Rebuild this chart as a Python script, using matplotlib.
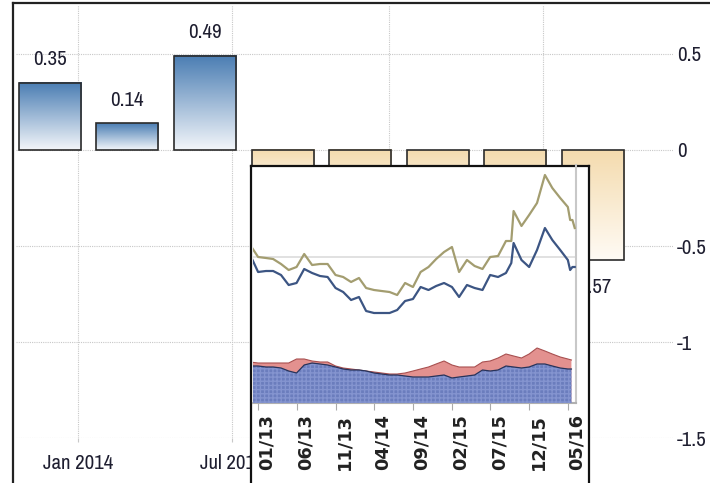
import numpy as np
import pandas as pd
import matplotlib
matplotlib.use("Agg")
import matplotlib.pyplot as plt
import matplotlib.dates as mdates
from matplotlib.colors import LinearSegmentedColormap
from matplotlib.lines import Line2D

plt.rcParams['font.family'] = ['Archivo Narrow', 'DejaVu Sans']

# quarterly bars of the main chart
bar_dates = ['2013-11-29', '2014-02-27', '2014-05-30', '2014-08-29',
             '2014-11-28', '2015-02-27', '2015-05-29', '2015-08-28']
bar_values = [0.35, 0.14, 0.49, -0.21, -0.33, -0.27, -0.42, -0.57]
main_ticks = ['2014-01-01', '2014-07-01', '2015-01-01', '2015-07-01']
main_tick_labels = ['Jan 2014', 'Jul 2014', '', '']  # later ones sit behind the inset
y_ticks = [0.5, 0, -0.5, -1, -1.5]
y_tick_labels = ['0.5', '0', '-0.5', '-1', '-1.5']

# inset: two price lines (monthly, a few extra points near the jumps)
line_dates = (list(pd.date_range('2012-12-01', '2015-09-01', freq='MS'))
              + [pd.Timestamp('2015-09-22')]
              + list(pd.date_range('2015-10-01', '2016-05-01', freq='MS'))
              + [pd.Timestamp('2016-05-10'), pd.Timestamp('2016-05-19'),
                 pd.Timestamp('2016-05-28')])
tan_line = [158, 146, 145, 144, 139, 133, 136, 149, 138, 139, 139, 128, 126,
            121, 125, 115, 113, 112, 111, 108, 120, 116, 131, 136, 144, 151,
            156, 131, 143, 137, 134, 146, 147, 162, 162,
            192, 177, 188, 200, 228, 215, 205, 196, 183, 183, 175]
blue_line = [148, 131, 132, 132, 128, 118, 120, 134, 130, 127, 126, 115, 111,
             103, 106, 92, 90, 90, 90, 93, 102, 104, 116, 113, 117, 120,
             116, 106, 118, 115, 113, 128, 126, 130, 140,
             160, 143, 136, 153, 175, 163, 153, 143, 133, 136, 136]

# inset: stacked areas at the bottom
area_dates = (list(pd.date_range('2012-12-01', '2016-05-01', freq='MS'))
              + [pd.Timestamp('2016-05-15')])
area_pink = [41, 40, 40, 40, 40, 40, 44, 44, 42, 41, 41, 37, 35, 34, 33, 32,
             31, 30, 29, 29, 30, 32, 34, 36, 39, 42, 38, 36, 36, 36, 41, 42,
             45, 49, 47, 45, 49, 55, 52, 49, 46, 44, 43]
area_blue = [37, 37, 36, 36, 35, 32, 30, 38, 40, 39, 38, 36, 34, 33, 33, 32,
             30, 29, 28, 28, 27, 26, 26, 26, 27, 28, 25, 26, 27, 28, 33, 32,
             33, 37, 36, 35, 36, 39, 39, 37, 35, 34, 34]
inset_ticks = pd.date_range('2013-01-01', '2016-05-01', freq='5MS')

W, H = 710, 483
TXT = '#1e1e30'
FS = 15


def fx(px):
    return px / W


def fy(py):
    return 1 - py / H


fig = plt.figure(figsize=(W / 100, H / 100), dpi=100)

# main chart
ax = fig.add_axes([fx(16), fy(438.3), fx(673) - fx(16), fy(5) - fy(438.3)])
xs = mdates.date2num(pd.to_datetime(bar_dates))
width = 73
pos_cmap = LinearSegmentedColormap.from_list('pos', ['#4a7db3', '#f3f6fa'])
neg_cmap = LinearSegmentedColormap.from_list('neg', ['#f4dbae', '#fffbf5'])
grad = np.linspace(0, 1, 256).reshape(-1, 1)
for x, v in zip(xs, bar_values):
    cmap = pos_cmap if v > 0 else neg_cmap
    ax.imshow(grad, extent=[x - width / 2, x + width / 2, min(0, v), max(0, v)],
              cmap=cmap, aspect='auto', origin='upper', zorder=2)
    off = 16.5 if v > 0 else -20
    ax.annotate(f'{v:.2f}', (x, v), xytext=(0, off), textcoords='offset points',
                ha='center', va='center', fontsize=FS, color=TXT)
ax.bar(xs, bar_values, width=width, fill=False, edgecolor='#2b2b2b',
       linewidth=1.2, zorder=3)

ax.set_xlim(mdates.date2num(pd.Timestamp('2013-10-20')),
            mdates.date2num(pd.Timestamp('2015-11-30')))
ax.set_ylim(-1.5, 0.754)
ax.set_xticks(mdates.date2num(pd.to_datetime(main_ticks)))
ax.set_xticklabels(main_tick_labels)
ax.set_yticks(y_ticks)
ax.set_yticklabels(y_tick_labels)
ax.yaxis.tick_right()
ax.tick_params(axis='y', length=0, pad=3, labelsize=FS, labelcolor=TXT)
ax.tick_params(axis='x', length=3, color='#c8c8c8', pad=8, labelsize=FS,
               labelcolor=TXT)
ax.grid(True, color='#c8c8c8', linestyle=(0, (1, 1)), linewidth=0.8)
ax.set_axisbelow(True)
for s in ax.spines.values():
    s.set_visible(False)

# outer frame (left and top only, rest is cropped)
fig.add_artist(Line2D([fx(13), fx(13)], [fy(3), 0], color='#222222', lw=1.6))
fig.add_artist(Line2D([fx(13), 1], [fy(3), fy(3)], color='#222222', lw=1.6))

# inset box
axb = fig.add_axes([fx(251), -0.2, fx(589) - fx(251), fy(166) + 0.2])
axb.set_facecolor('white')
axb.set_xticks([])
axb.set_yticks([])
for s in axb.spines.values():
    s.set_color('#111111')
    s.set_linewidth(1.6)

# inset plot
axi = fig.add_axes([fx(253), fy(403), fx(576) - fx(253), fy(165) - fy(403)])
axi.set_facecolor('none')
axi.axhline(146, color='#dcdcdc', lw=1.2, zorder=1)
axi.fill_between(area_dates, 0, area_pink, facecolor='#e3918f', lw=0, zorder=2)
axi.plot(area_dates, area_pink, color='#a85050', lw=0.8, zorder=3)
axi.fill_between(area_dates, 0, area_blue, facecolor='#6b7dbd', edgecolor='#8494cf',
                 hatch='++++', lw=0, zorder=3)
axi.plot(area_dates, area_blue, color='#28335a', lw=0.9, zorder=4)
axi.plot(line_dates, tan_line, color='#a39d70', lw=1.6, zorder=5)
axi.plot(line_dates, blue_line, color='#3c5583', lw=1.6, zorder=5)

axi.set_xlim(pd.Timestamp('2012-12-12'), pd.Timestamp('2016-06-02'))
axi.set_ylim(0, 238)
axi.set_xticks(inset_ticks)
axi.xaxis.set_major_formatter(mdates.DateFormatter('%m/%y'))
axi.set_yticks([])
axi.tick_params(axis='x', length=5, color='#aaaaaa', pad=3, labelsize=12.8,
                labelrotation=90, labelcolor='#222222')
for lab in axi.get_xticklabels():
    lab.set_fontfamily('DejaVu Sans')
    lab.set_fontweight('bold')
    lab.set_ha('left')
axi.spines['top'].set_visible(False)
axi.spines['left'].set_visible(False)
axi.spines['right'].set_color('#c8c8c8')
axi.spines['right'].set_linewidth(1.5)
axi.spines['bottom'].set_color('#b0b0b0')
axi.spines['bottom'].set_linewidth(1.5)

fig.savefig('out.png', dpi=100)
